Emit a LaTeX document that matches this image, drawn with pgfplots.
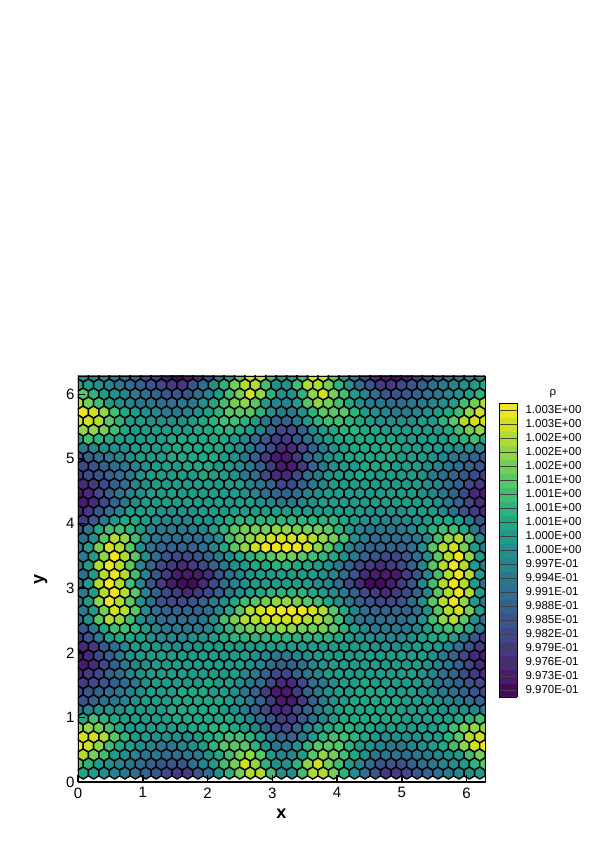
\documentclass[border=0pt]{standalone}
\usepackage{pgfplots}
\usepackage{pgfplotstable}
\usepackage{fontspec}
\setmainfont{Liberation Sans}
\pgfplotsset{compat=1.18}
\pgfdeclareplotmark{hexc}{%
  \pgfpathmoveto{\pgfpointpolar{90}{\pgfplotmarksize}}%
  \pgfpathlineto{\pgfpointpolar{150}{\pgfplotmarksize}}%
  \pgfpathlineto{\pgfpointpolar{210}{\pgfplotmarksize}}%
  \pgfpathlineto{\pgfpointpolar{270}{\pgfplotmarksize}}%
  \pgfpathlineto{\pgfpointpolar{330}{\pgfplotmarksize}}%
  \pgfpathlineto{\pgfpointpolar{30}{\pgfplotmarksize}}%
  \pgfpathclose\pgfusepathqfillstroke}
% cell values: colour level k, rho = 0.997 + 0.0003 k
\pgfplotstableread[header=false]{
10 9 9 8 7 6 4 3 1 0 1 2 4 8 11 15 19 19 14 11 11 14 19 19 15 11 8 4 2 1 0 1 3 4 6 7 8 9 9 10
12 11 10 9 8 7 6 5 4 3 3 5 7 10 13 16 18 18 14 10 10 14 18 18 16 13 10 7 5 3 3 4 5 6 7 8 9 10 11 12
15 13 11 10 9 8 7 6 5 5 5 7 9 11 14 16 19 17 13 10 10 13 17 19 16 14 11 9 7 5 5 5 6 7 8 9 10 11 13 15
18 16 14 11 10 9 8 8 7 7 8 8 10 12 14 16 17 15 11 9 9 11 15 17 16 14 12 10 8 8 7 7 8 8 9 10 11 14 16 18
20 19 17 14 12 11 10 9 8 8 9 10 11 13 15 15 15 13 10 8 8 10 13 15 15 15 13 11 10 9 8 8 9 10 11 12 14 17 19 20
19 19 18 15 13 11 11 10 10 10 10 11 12 13 14 14 13 11 8 6 6 8 11 13 14 14 13 12 11 10 10 10 10 11 11 13 15 18 19 19
17 17 16 14 12 11 11 11 11 11 11 12 12 13 13 12 11 9 6 4 4 6 9 11 12 13 13 12 12 11 11 11 11 11 11 12 14 16 17 17
12 14 13 12 11 11 11 11 11 12 12 12 12 12 12 11 9 7 5 3 3 5 7 9 11 12 12 12 12 12 12 11 11 11 11 11 12 13 14 12
8 9 10 10 10 11 11 11 11 12 12 12 12 12 11 10 8 6 4 2 2 4 6 8 10 11 12 12 12 12 12 11 11 11 11 10 10 10 9 8
5 6 7 8 9 10 11 11 11 12 12 12 12 12 11 10 8 6 3 1 1 3 6 8 10 11 12 12 12 12 12 11 11 11 10 9 8 7 6 5
4 5 6 7 8 9 10 11 11 11 12 12 12 11 11 10 8 6 3 1 1 3 6 8 10 11 11 12 12 12 11 11 11 10 9 8 7 6 5 4
3 4 5 6 7 8 10 11 11 11 11 11 12 11 11 10 8 7 4 2 2 4 7 8 10 11 11 12 11 11 11 11 11 10 8 7 6 5 4 3
2 3 4 6 7 9 10 11 11 11 11 11 11 11 11 11 9 8 6 4 4 6 8 9 11 11 11 11 11 11 11 11 11 10 9 7 6 4 3 2
1 2 4 6 8 9 10 11 11 11 11 11 11 11 11 11 10 9 7 6 6 7 9 10 11 11 11 11 11 11 11 11 11 10 9 8 6 4 2 1
1 2 4 6 8 10 11 11 11 11 11 11 11 11 11 11 11 10 9 8 8 9 10 11 11 11 11 11 11 11 11 11 11 11 10 8 6 4 2 1
2 3 5 7 9 11 11 11 10 10 10 10 11 11 11 11 11 11 11 11 11 11 11 11 11 11 11 11 10 10 10 10 11 11 11 9 7 5 3 2
3 5 8 11 12 12 11 10 9 9 9 10 10 11 12 13 13 13 13 13 13 13 13 13 13 12 11 10 10 9 9 9 10 11 12 12 11 8 5 3
5 8 12 14 14 13 11 9 8 8 8 8 9 11 13 15 16 16 16 17 17 16 16 16 15 13 11 9 8 8 8 8 9 11 13 14 14 12 8 5
7 10 15 18 17 14 10 8 7 7 7 7 8 10 14 16 17 18 19 19 19 19 18 17 16 14 10 8 7 7 7 7 8 10 14 17 18 15 10 7
8 11 16 19 18 15 10 7 6 6 6 6 7 9 12 15 17 19 20 20 20 20 19 17 15 12 9 7 6 6 6 6 7 10 15 18 19 16 11 8
8 11 17 20 18 15 10 7 5 4 4 5 6 8 10 12 13 14 15 16 16 15 14 13 12 10 8 6 5 4 4 5 7 10 15 18 20 17 11 8
8 11 18 20 18 15 9 6 4 3 2 3 4 6 8 10 11 12 12 13 13 12 12 11 10 8 6 4 3 2 3 4 6 9 15 18 20 18 11 8
7 11 18 20 18 14 9 5 3 1 1 1 2 5 7 9 10 11 11 11 11 11 11 10 9 7 5 2 1 1 1 3 5 9 14 18 20 18 11 7
7 11 18 20 18 14 9 5 3 1 0 0 2 4 7 9 10 11 11 11 11 11 11 10 9 7 4 2 0 0 1 3 5 9 14 18 20 18 11 7
8 11 18 20 18 15 9 6 4 3 2 3 4 6 8 10 11 12 13 13 13 13 12 11 10 8 6 4 3 2 3 4 6 9 15 18 20 18 11 8
8 11 17 20 18 15 10 7 5 4 4 5 6 8 10 12 14 15 16 17 17 16 15 14 12 10 8 6 5 4 4 5 7 10 15 18 20 17 11 8
8 11 16 19 18 15 10 7 6 6 6 6 7 9 12 15 18 19 20 20 20 20 19 18 15 12 9 7 6 6 6 6 7 10 15 18 19 16 11 8
7 10 15 18 17 14 10 8 7 7 7 7 8 10 14 16 18 18 19 19 19 19 18 18 16 14 10 8 7 7 7 7 8 10 14 17 18 15 10 7
5 8 12 14 14 13 11 9 8 8 8 8 9 11 13 15 16 16 16 17 17 16 16 16 15 13 11 9 8 8 8 8 9 11 13 14 14 12 8 5
3 5 8 11 12 12 11 10 9 9 9 10 10 11 12 13 13 13 13 13 13 13 13 13 13 12 11 10 10 9 9 9 10 11 12 12 11 8 5 3
2 3 5 7 9 11 11 11 10 10 10 10 11 11 11 11 11 11 11 11 11 11 11 11 11 11 11 11 10 10 10 10 11 11 11 9 7 5 3 2
1 2 4 6 8 10 11 11 11 11 11 11 11 11 11 11 11 10 9 8 8 9 10 11 11 11 11 11 11 11 11 11 11 11 10 8 6 4 2 1
1 2 4 6 8 9 10 11 11 11 11 11 11 11 11 11 10 9 7 6 6 7 9 10 11 11 11 11 11 11 11 11 11 10 9 8 6 4 2 1
2 3 4 6 7 9 10 11 11 11 11 11 11 11 11 11 9 8 6 4 4 6 8 9 11 11 11 11 11 11 11 11 11 10 9 7 6 4 3 2
3 4 5 6 7 8 10 11 11 11 11 11 12 11 11 10 8 7 4 2 2 4 7 8 10 11 11 12 11 11 11 11 11 10 8 7 6 5 4 3
4 5 6 7 8 9 10 11 11 11 12 12 12 11 11 10 8 6 3 1 1 3 6 8 10 11 11 12 12 12 11 11 11 10 9 8 7 6 5 4
5 6 7 8 9 10 11 11 11 12 12 12 12 12 11 10 8 6 3 1 1 3 6 8 10 11 12 12 12 12 12 11 11 11 10 9 8 7 6 5
8 9 10 10 10 11 11 11 11 12 12 12 12 12 11 10 8 6 4 2 2 4 6 8 10 11 12 12 12 12 12 11 11 11 11 10 10 10 9 8
12 14 13 12 11 11 11 11 11 12 12 12 12 12 12 11 9 7 5 3 3 5 7 9 11 12 12 12 12 12 12 11 11 11 11 11 12 13 14 12
17 17 16 14 12 11 11 11 11 11 11 12 12 13 13 12 11 9 6 4 4 6 9 11 12 13 13 12 12 11 11 11 11 11 11 12 14 16 17 17
19 19 18 15 13 11 11 10 10 10 10 11 12 13 14 14 13 11 8 6 6 8 11 13 14 14 13 12 11 10 10 10 10 11 11 13 15 18 19 19
20 19 17 14 12 11 10 9 8 8 9 10 11 13 15 15 15 13 10 8 8 10 13 15 15 15 13 11 10 9 8 8 9 10 11 12 14 17 19 20
18 16 14 11 10 9 8 8 7 7 8 8 10 12 14 16 17 15 11 9 9 11 15 17 16 14 12 10 8 8 7 7 8 8 9 10 11 14 16 18
15 13 11 10 9 8 7 6 5 5 5 7 9 11 14 16 19 17 13 10 10 13 17 19 16 14 11 9 7 5 5 5 6 7 8 9 10 11 13 15
12 11 10 9 8 7 6 5 4 3 3 5 7 10 13 16 18 18 14 10 10 14 18 18 16 13 10 7 5 3 3 4 5 6 7 8 9 10 11 12
10 9 9 8 7 6 4 3 1 0 1 2 4 8 11 15 19 19 14 11 11 14 19 19 15 11 8 4 2 1 0 1 3 4 6 7 8 9 9 10
}\cells
\begin{document}
\begin{tikzpicture}[x=1pt,y=1pt]
\path[use as bounding box] (0,0) rectangle (595,842);
\begin{axis}[
  at={(78pt,60pt)}, anchor=south west, scale only axis,
  width=407pt, height=406pt,
  xmin=0, xmax=6.2832, ymin=0, ymax=6.2832,
  xtick={0,...,6}, ytick={0,...,6},
  tick align=inside, xtick pos=bottom, ytick pos=left,
  major tick length=7pt, tick style={black,line width=1.5pt},
  axis line style={line width=0.6pt},
  axis on top,
  clip marker paths=true,
  /pgf/number format/assume math mode=true,
  tick label style={font=\fontsize{15}{15}\selectfont},
  xticklabel style={yshift=-2pt},
  xlabel={\fontsize{18}{18}\selectfont\bfseries x},
  ylabel={\fontsize{18}{18}\selectfont\bfseries y},
  xlabel style={yshift=-4pt}, ylabel style={yshift=12pt},
  colormap/viridis,
  point meta min=-0.5, point meta max=20.5,
  colorbar sampled,
  colorbar style={
    samples=22, width=18pt, height=294pt,
    at={(1.0344,0.2094)}, anchor=south west,
    ytick={0,...,20},
    yticklabels={9.970E-01,9.973E-01,9.976E-01,9.979E-01,9.982E-01,9.985E-01,9.988E-01,9.991E-01,9.994E-01,9.997E-01,1.000E+00,1.000E+00,1.001E+00,1.001E+00,1.001E+00,1.001E+00,1.002E+00,1.002E+00,1.002E+00,1.003E+00,1.003E+00},
    ytick pos=right, yticklabel pos=right,
    tick align=inside, major tick length=18pt,
    ytick style={black!75,line width=0.5pt},
    axis line style={line width=0.5pt},
    yticklabel style={font=\fontsize{11.5}{12}\selectfont, xshift=5pt},
    /pgf/number format/assume math mode=true,
  },
]
\pgfplotsinvokeforeach{0,...,39}{
  \addplot[forget plot, scatter, scatter src=explicit, only marks, mark=hexc, mark size=6pt, line width=1.4pt,
    scatter/use mapped color={draw=black,fill=mapped color}]
    table[x expr={0.16110*#1+0.08055*(1-mod(\coordindex,2))},
          y expr={6.2832-0.13963*\coordindex}, meta index=#1]{\cells};
}
\draw[line width=2pt,black] (rel axis cs:0,1)--(rel axis cs:0,0)--(rel axis cs:1,0);
\end{axis}
\node[font=\fontsize{11.5}{12}\selectfont] at (553,448) {ρ};
\end{tikzpicture}
\end{document}
